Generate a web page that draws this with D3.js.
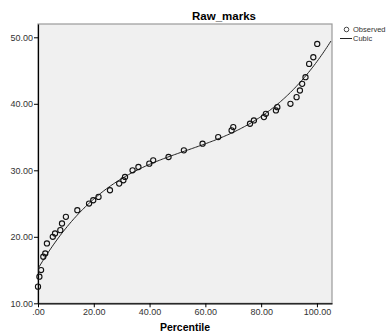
<!DOCTYPE html>
<html>
<head>
<meta charset="utf-8">
<script src="https://cdn.jsdelivr.net/npm/d3@7"></script>
<style>
  body { margin: 0; background: #fff; }
  svg { display: block; font-family: "Liberation Sans", Arial, sans-serif; }
</style>
</head>
<body>
<div class="js-d3"></div>
<script>
// observed points
const percentile = [0, 0.5, 1.1, 1.9, 2.6, 3.2, 5.3, 6.1, 8.0, 8.6, 10.0, 14.1, 18.3, 19.8, 21.7,
  25.8, 29.1, 30.6, 31.2, 33.9, 36.0, 39.9, 41.3, 46.8, 52.3, 59.0, 64.6, 69.4, 70.0, 76.0,
  77.4, 81.0, 81.7, 85.3, 85.8, 90.5, 92.7, 93.9, 94.7, 95.9, 97.2, 98.7, 100.1];
const rawMarks = [12.5, 14, 15, 17, 17.5, 19, 20, 20.5, 21, 22, 23, 24, 25, 25.5, 26,
  27, 28, 28.5, 29, 30, 30.5, 31, 31.5, 32, 33, 34, 35, 36, 36.5, 37,
  37.5, 38, 38.5, 39, 39.5, 40, 41, 42, 43, 44, 46, 47, 49];
// cubic model coefficients (constant, x, x^2, x^3)
const cubicCoef = [15.2, 0.7078, -0.0105, 0.00006537];
const xTicks = [0, 20, 40, 60, 80, 100];
const yTicks = [10, 20, 30, 40, 50];
const legendItems = ["Observed", "Cubic"];

const W = 388, H = 334;
const plot = { left: 38, right: 332, top: 24, bottom: 303.3 };

const cubic = (v) => cubicCoef.reduce((acc, c, i) => acc + c * Math.pow(v, i), 0);

const x = d3.scaleLinear().domain([0, 105.4]).range([plot.left, plot.right]);
const y = d3.scaleLinear().domain([10, 52]).range([plot.bottom, plot.top]);

const svg = d3.select(".js-d3").append("svg").attr("width", W).attr("height", H);

svg.append("rect")
  .attr("x", plot.left).attr("y", plot.top)
  .attr("width", plot.right - plot.left).attr("height", plot.bottom - plot.top)
  .attr("fill", "#f0f0f0").attr("stroke", "#9a9a9a").attr("stroke-width", 1.2);

svg.append("clipPath").attr("id", "clip")
  .append("rect")
  .attr("x", plot.left).attr("y", plot.top)
  .attr("width", plot.right - plot.left).attr("height", plot.bottom - plot.top);

const fmt = (d) => (d === 0 ? ".00" : d3.format(".2f")(d));

const xAxis = svg.append("g")
  .attr("transform", `translate(0, ${plot.bottom})`)
  .call(d3.axisBottom(x).tickValues(xTicks).tickFormat(fmt).tickSize(4).tickSizeOuter(0));
const yAxis = svg.append("g")
  .attr("transform", `translate(${plot.left}, 0)`)
  .call(d3.axisLeft(y).tickValues(yTicks).tickFormat(fmt).tickSize(4).tickSizeOuter(0));

[xAxis, yAxis].forEach((g) => {
  g.select(".domain").attr("stroke", "#000").attr("stroke-width", 1.2);
  g.selectAll(".tick line").attr("stroke", "#000");
  g.selectAll(".tick text")
    .attr("fill", "#333")
    .style("font-family", "'Liberation Sans', Arial, sans-serif")
    .style("font-size", "9px");
});
xAxis.selectAll(".tick text").attr("dy", "0.9em").attr("y", 4);
yAxis.selectAll(".tick text").attr("x", -5);

// fitted line
const xs = d3.range(0, 105.5, 0.5);
svg.append("path")
  .datum(xs)
  .attr("clip-path", "url(#clip)")
  .attr("fill", "none")
  .attr("stroke", "#222")
  .attr("stroke-width", 1)
  .attr("d", d3.line().x((d) => x(d)).y((d) => y(cubic(d))));

svg.append("g")
  .selectAll("circle")
  .data(percentile)
  .enter()
  .append("circle")
  .attr("cx", (d) => x(d))
  .attr("cy", (d, i) => y(rawMarks[i]))
  .attr("r", 2.6)
  .attr("fill", "none")
  .attr("stroke", "#111")
  .attr("stroke-width", 1.1);

svg.append("text")
  .attr("x", 224).attr("y", 20)
  .attr("text-anchor", "middle")
  .style("font-size", "11.5px").style("font-weight", "bold")
  .text("Raw_marks");

svg.append("text")
  .attr("x", (plot.left + plot.right) / 2).attr("y", 331)
  .attr("text-anchor", "middle")
  .style("font-size", "10.5px").style("font-weight", "bold")
  .text("Percentile");

// legend
const legend = svg.append("g").attr("transform", "translate(340, 29.5)");
legend.append("circle").attr("cx", 6.5).attr("cy", 0).attr("r", 2.3)
  .attr("fill", "none").attr("stroke", "#333").attr("stroke-width", 0.9);
legend.append("line").attr("x1", 0).attr("x2", 12).attr("y1", 9).attr("y2", 9)
  .attr("stroke", "#222").attr("stroke-width", 1);
legend.selectAll("text")
  .data(legendItems)
  .enter()
  .append("text")
  .attr("x", 13)
  .attr("y", (d, i) => i * 9 + 2.8)
  .attr("fill", "#333")
  .style("font-size", "7.5px")
  .text((d) => d);
</script>
</body>
</html>
